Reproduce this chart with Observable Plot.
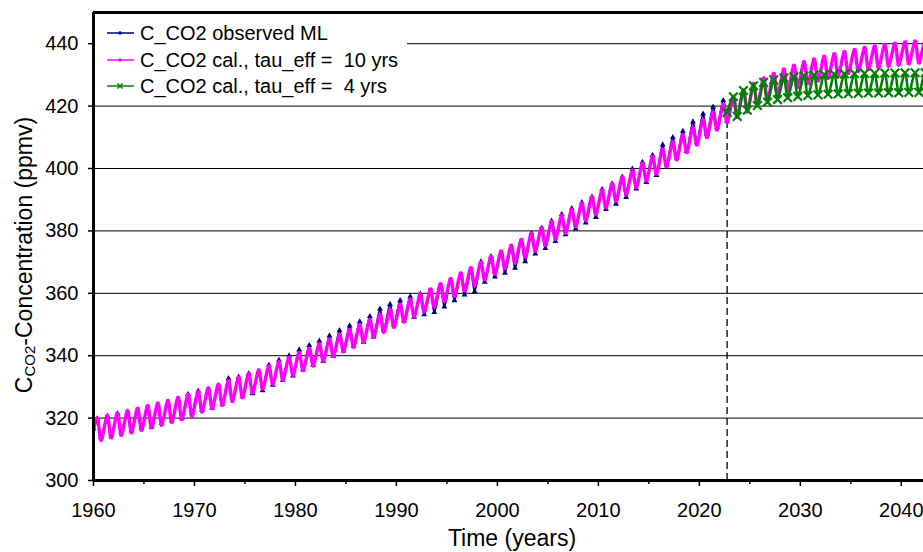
<!DOCTYPE html>
<html>
<head>
<meta charset="utf-8">
<script src="https://cdn.jsdelivr.net/npm/d3@7"></script>
<script src="https://cdn.jsdelivr.net/npm/@observablehq/plot@0.6"></script>
<style>
  html, body { margin: 0; padding: 0; background: #fff; }
  #wrap { position: relative; width: 923px; height: 552px; overflow: hidden; font-family: "Liberation Sans", Arial, sans-serif; }
  #legend { position: absolute; left: 95px; top: 14px; width: 312px; height: 88px; background: #fff; }
  .row { position: absolute; left: 0; height: 22px; display: flex; align-items: center; white-space: pre; font-size: 20px; color: #000; }
  .row svg { display: block; margin-left: 12px; margin-right: 6px; }
</style>
</head>
<body>
<div id="wrap"></div>
<script>
// ---------------- data (ppmv) ----------------
const obsFirstYear = 1960;      // observed Mauna Loa series
const obsJanStart = 316.6;      // value at start of 1960
const obsPeaks = [
  319.8, 320.6, 321.4, 322.0, 322.5, 322.9, 324.3, 325.1, 326.0, 327.6,
  328.7, 329.3, 330.5, 332.7, 333.2, 334.2, 335.1, 337.0, 338.6, 340.0,
  341.9, 343.3, 344.7, 346.4, 348.1, 349.6, 350.9, 352.6, 355.0, 356.5,
  357.7, 359.0, 359.8, 360.4, 362.2, 364.2, 366.0, 367.1, 370.1, 371.8,
  372.9, 374.6, 376.7, 379.2, 380.9, 383.2, 385.3, 387.2, 389.1, 390.9,
  393.3, 395.1, 397.3, 399.9, 402.0, 404.2, 407.6, 410.0, 412.0, 415.0,
  417.5, 419.7, 421.8
];
const obsTroughs = [
  313.9, 314.7, 315.5, 316.0, 316.7, 317.1, 318.4, 319.2, 320.1, 321.6,
  322.6, 323.2, 324.4, 326.5, 327.0, 327.9, 328.8, 330.6, 332.2, 333.6,
  335.5, 336.9, 338.2, 339.9, 341.6, 343.1, 344.4, 346.1, 348.4, 349.9,
  351.2, 352.4, 353.2, 353.9, 355.7, 357.7, 359.5, 360.6, 363.6, 365.3,
  366.5, 368.1, 370.2, 372.7, 374.4, 376.7, 378.8, 380.7, 382.6, 384.4,
  386.9, 388.6, 390.8, 393.5, 395.6, 397.8, 401.2, 403.5, 405.5, 408.4,
  411.0, 413.2, 415.3
];

const tau10FirstYear = 1960;    // calculated, tau_eff = 10 yrs
const tau10JanStart = 316.4;
const tau10Peaks = [
  319.8, 320.6, 321.4, 322.2, 323.0, 323.8, 324.6, 325.5, 326.4, 327.4,
  328.4, 329.5, 330.6, 331.8, 332.9, 334.0, 335.2, 336.5, 337.9, 339.3,
  340.8, 342.2, 343.7, 345.2, 346.7, 348.2, 349.8, 351.4, 353.0, 354.6,
  356.3, 358.0, 359.6, 361.2, 362.9, 364.6, 366.3, 368.0, 369.8, 371.6,
  373.4, 375.2, 377.1, 379.0, 380.9, 382.8, 384.8, 386.8, 388.8, 390.8,
  392.9, 395.0, 397.1, 399.3, 401.5, 403.7, 406.0, 408.3, 410.6, 413.0,
  415.4, 417.9, 420.4, 422.8, 425.0, 427.1, 428.8, 430.3, 431.7, 432.9,
  434.0, 434.9, 435.8, 436.6, 437.3, 438.0, 438.6, 439.1, 439.6, 440.0,
  440.4, 440.7, 441.0
];
const tau10Troughs = [
  313.1, 313.9, 314.7, 315.5, 316.3, 317.1, 317.9, 318.8, 319.7, 320.7,
  322.1, 323.2, 324.3, 325.5, 326.7, 328.3, 329.6, 331.0, 332.4, 333.9,
  335.4, 336.9, 338.4, 339.9, 341.4, 342.9, 344.5, 346.1, 347.7, 349.3,
  351.0, 352.7, 354.3, 355.9, 357.6, 359.3, 361.0, 362.7, 364.5, 366.3,
  368.1, 369.9, 371.8, 373.7, 375.6, 377.5, 379.5, 381.5, 383.5, 385.5,
  387.6, 389.7, 391.8, 394.0, 396.2, 398.4, 400.7, 403.0, 405.3, 407.7,
  410.1, 412.5, 414.9, 416.6, 418.3, 420.4, 422.1, 423.6, 425.0, 426.2,
  427.3, 428.2, 429.1, 429.9, 430.6, 431.3, 431.9, 432.4, 432.9, 433.3,
  433.7, 434.0, 434.3
];

const tau4FirstYear = 2023;     // calculated, tau_eff = 4 yrs
const tau4Start = 418.0;        // value at the start of the projection
const tau4Peaks = [
  423.0, 425.0, 426.5, 427.6, 428.4, 429.0, 429.4, 429.7, 429.9, 430.1,
  430.2, 430.3, 430.4, 430.5, 430.5, 430.6, 430.6, 430.7, 430.7, 430.7
];
const tau4Troughs = [
  416.7, 418.7, 420.2, 421.3, 422.1, 422.7, 423.1, 423.4, 423.6, 423.8,
  423.9, 424.0, 424.1, 424.2, 424.2, 424.3, 424.3, 424.4, 424.4, 424.4
];

const peakPhase = 0.37;    // mid-May maximum
const troughPhase = 0.75;  // end-September minimum
const splitYear = 2022.75; // start of projection
const splitValue = 415.5;

const seriesNames = ["C_CO2 observed ML", "C_CO2 cal., tau_eff =  10 yrs", "C_CO2 cal., tau_eff =  4 yrs"];
const seriesColors = ["#000080", "#ff00ff", "#008000"];

const xLabelTicks = [1960, 1970, 1980, 1990, 2000, 2010, 2020, 2030, 2040];
const xMinorTicks = [1965, 1975, 1985, 1995, 2005, 2015, 2025, 2035];
const yTicks = [300, 320, 340, 360, 380, 400, 420, 440];
const yGrid = [320, 340, 360, 380, 400, 420, 440];
const xDomain = [1960, 2042.2];
const yDomain = [300, 450];

// ---------------- build point tables ----------------
function build(firstYear, start, startT, peaks, troughs) {
  const pts = [{t: startT, v: start}];
  peaks.forEach((p, i) => {
    pts.push({t: firstYear + i + peakPhase, v: p});
    pts.push({t: firstYear + i + troughPhase, v: troughs[i]});
  });
  return pts;
}
const obsPts = build(obsFirstYear, obsJanStart, obsFirstYear, obsPeaks, obsTroughs);
const tau10Pts = build(tau10FirstYear, tau10JanStart, tau10FirstYear, tau10Peaks, tau10Troughs);
const tau4Pts = build(tau4FirstYear, tau4Start, splitYear, tau4Peaks, tau4Troughs);

const font = '"Liberation Sans", Arial, sans-serif';

const chart = Plot.plot({
  width: 923,
  height: 552,
  marginLeft: 93,
  marginRight: 0,
  marginTop: 12,
  marginBottom: 72,
  style: {fontFamily: font, fontSize: "20px", color: "#000", background: "#fff", overflow: "hidden"},
  x: {domain: xDomain},
  y: {domain: yDomain},
  marks: [
    Plot.ruleY(yGrid, {stroke: "#000", strokeWidth: 1}),
    Plot.ruleX([splitYear], {y1: yDomain[0], y2: splitValue, stroke: "#000", strokeWidth: 1.3, strokeDasharray: "7,4"}),
    Plot.line(obsPts, {x: "t", y: "v", stroke: seriesColors[0], strokeWidth: 2, curve: "catmull-rom", clip: true}),
    Plot.dot(obsPts, {x: "t", y: "v", r: 2.2, symbol: "triangle", fill: seriesColors[0], clip: true}),
    Plot.line(tau10Pts, {x: "t", y: "v", stroke: seriesColors[1], strokeWidth: 3.4, curve: "catmull-rom", clip: true}),
    Plot.dot(tau10Pts, {x: "t", y: "v", r: 2.3, fill: seriesColors[1], clip: true}),
    Plot.line(tau4Pts, {x: "t", y: "v", stroke: seriesColors[2], strokeWidth: 2.6, curve: "catmull-rom", clip: true}),
    Plot.dot(tau4Pts, {x: "t", y: "v", r: 4, symbol: "times", stroke: seriesColors[2], strokeWidth: 2.2, clip: true}),
    Plot.ruleY([yDomain[0]], {stroke: "#000", strokeWidth: 3}),
    Plot.ruleY([yDomain[1]], {stroke: "#000", strokeWidth: 3}),
    Plot.ruleX([xDomain[0]], {stroke: "#000", strokeWidth: 3}),
    Plot.axisX({ticks: xLabelTicks, tickFormat: d => String(d), tickSize: 6, tickPadding: 16, strokeWidth: 1.5, label: null, fontSize: 20}),
    Plot.axisX({ticks: xMinorTicks, tickFormat: () => "", tickSize: 4, strokeWidth: 1.5, label: null}),
    Plot.axisY({ticks: yTicks, tickSize: 5, tickPadding: 10, strokeWidth: 1.5, label: null, fontSize: 20})
  ]
});

const wrap = document.getElementById("wrap");
wrap.appendChild(chart);

// axis titles
const svg = d3.select(chart);
const yt = svg.append("text")
  .attr("transform", "translate(32,255) rotate(-90)")
  .attr("text-anchor", "middle")
  .attr("font-family", font)
  .attr("font-size", 23)
  .attr("fill", "#000");
yt.append("tspan").text("C");
yt.append("tspan").attr("font-size", 15).attr("dy", 3).text("CO2");
yt.append("tspan").attr("dy", -3).text("-Concentration (ppmv)");

svg.append("text")
  .attr("x", 512).attr("y", 546)
  .attr("text-anchor", "middle")
  .attr("font-family", font)
  .attr("font-size", 23)
  .attr("fill", "#000")
  .text("Time (years)");

// legend
const legend = document.createElement("div");
legend.id = "legend";
const rowCenters = [19, 46, 72];
seriesNames.forEach((name, i) => {
  const row = document.createElement("div");
  row.className = "row";
  row.style.top = (rowCenters[i] - 11) + "px";
  const c = seriesColors[i];
  let marker = `<circle cx="13" cy="11" r="1.8" fill="${c}"/>`;
  if (i === 2) marker = `<path d="M10.5,8.5L15.5,13.5M15.5,8.5L10.5,13.5" stroke="${c}" stroke-width="1.5"/>`;
  row.innerHTML = `<svg width="27" height="22"><line x1="0" y1="11" x2="27" y2="11" stroke="${c}" stroke-width="1.5"/>${marker}</svg><span>${name}</span>`;
  legend.appendChild(row);
});
wrap.appendChild(legend);
</script>
</body>
</html>
